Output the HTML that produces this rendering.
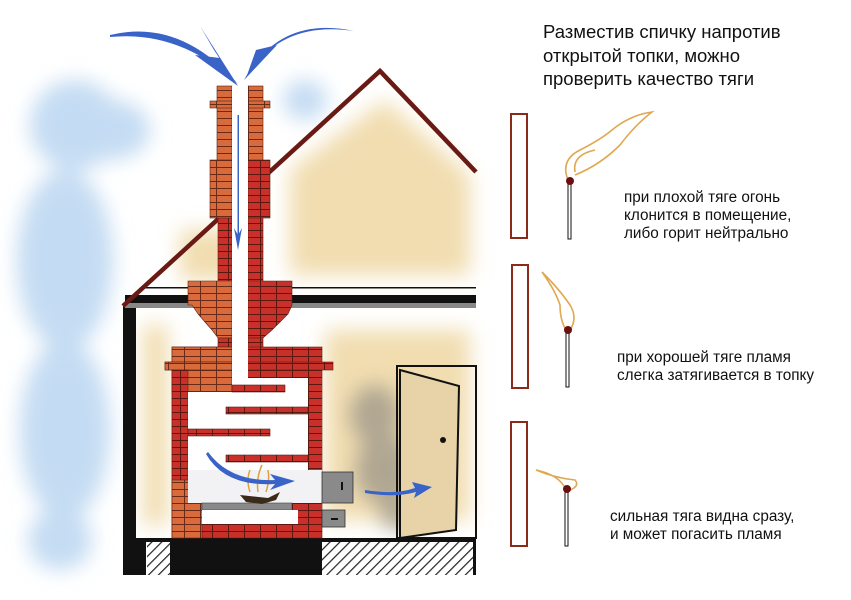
<!DOCTYPE html>
<html><head><meta charset="utf-8"><style>
html,body{margin:0;padding:0;background:#fff;width:851px;height:600px;overflow:hidden}
svg{display:block}
text{font-family:"Liberation Sans",sans-serif;fill:#111}
</style></head><body>
<svg width="851" height="600" viewBox="0 0 851 600" xmlns="http://www.w3.org/2000/svg">
<defs>
<filter id="b8" x="-50%" y="-50%" width="200%" height="200%"><feGaussianBlur stdDeviation="10"/></filter>
<pattern id="bo" width="16" height="7" patternUnits="userSpaceOnUse">
<rect width="16" height="7" fill="#d96a3c"/><rect y="6" width="16" height="1" fill="#6a2a18"/>
<rect x="8" y="0" width="1" height="6" fill="#6a2a18"/></pattern>
<pattern id="br" width="16" height="7" patternUnits="userSpaceOnUse">
<rect width="16" height="7" fill="#c9302a"/><rect y="6" width="16" height="1" fill="#5a1810"/>
<rect x="4" y="0" width="1" height="6" fill="#5a1810"/></pattern>
<pattern id="hat" width="7" height="7" patternUnits="userSpaceOnUse" patternTransform="rotate(45)">
<rect width="7" height="7" fill="#fff"/><rect width="1.2" height="7" fill="#222"/></pattern>
</defs>
<g filter="url(#b8)" fill="#c4dcf3">
<ellipse cx="75" cy="125" rx="45" ry="45"/>
<ellipse cx="110" cy="130" rx="40" ry="30"/>
<ellipse cx="65" cy="260" rx="48" ry="90"/>
<ellipse cx="65" cy="430" rx="45" ry="90"/>
<ellipse cx="60" cy="540" rx="32" ry="30"/>
<ellipse cx="305" cy="100" rx="22" ry="20"/>
</g>
<g filter="url(#b8)" fill="#f1ddb0">
<polygon points="385,100 470,175 470,275 290,275 290,170 330,140"/>
<rect x="180" y="230" width="60" height="50"/>
<rect x="325" y="330" width="145" height="190"/>
<rect x="143" y="325" width="25" height="200"/>
</g>
<g filter="url(#b8)" fill="#9a9488" opacity="0.75">
<ellipse cx="375" cy="415" rx="25" ry="30"/>
<ellipse cx="385" cy="470" rx="30" ry="35"/>
<ellipse cx="400" cy="515" rx="20" ry="15"/>
</g>
<rect x="123" y="538" width="353" height="4" fill="#111"/>
<rect x="147" y="542" width="25" height="33" fill="url(#hat)"/>
<rect x="322" y="542" width="154" height="33" fill="url(#hat)"/>
<rect x="123" y="540" width="23" height="35" fill="#111"/>
<rect x="170" y="540" width="152" height="35" fill="#111"/>
<rect x="473" y="540" width="3" height="35" fill="#111"/>
<rect x="123" y="305" width="13" height="235" fill="#111"/>
<rect x="145" y="287" width="331" height="1.5" fill="#111"/>
<rect x="125" y="295" width="351" height="8" fill="#111"/>
<rect x="125" y="303" width="351" height="5" fill="#888"/>
<polyline points="123,306 380,71 476,172" fill="none" stroke="#6a1a14" stroke-width="4.5"/>
<g stroke="#5a2010" stroke-width="0.6">
<rect x="217" y="86" width="15" height="75" fill="url(#bo)"/>
<rect x="248" y="86" width="15" height="75" fill="url(#bo)"/>
<rect x="210" y="101" width="22" height="7" fill="url(#bo)"/>
<rect x="248" y="101" width="22" height="7" fill="url(#bo)"/>
<rect x="210" y="160" width="22" height="58" fill="url(#bo)"/>
<rect x="248" y="160" width="22" height="58" fill="url(#br)"/>
<rect x="218" y="218" width="14" height="65" fill="url(#br)"/>
<rect x="248" y="218" width="15" height="65" fill="url(#br)"/>
<polygon points="188,281 232,281 232,338 218,338 212,330 205,322 198,314 192,305 188,305" fill="url(#bo)"/>
<polygon points="248,281 292,281 292,305 288,314 280,322 272,330 263,338 248,338" fill="url(#br)"/>
<rect x="218" y="338" width="14" height="10" fill="url(#br)"/>
<rect x="248" y="338" width="15" height="10" fill="url(#br)"/>
<rect x="172" y="347" width="150" height="191" fill="url(#br)"/>
<rect x="172" y="347" width="60" height="45" fill="url(#bo)"/>
<rect x="165" y="362" width="168" height="8" fill="url(#br)"/>
<rect x="165" y="362" width="67" height="8" fill="url(#bo)"/>
<rect x="172" y="370" width="16" height="168" fill="url(#br)"/>
<rect x="172" y="480" width="30" height="58" fill="url(#bo)"/>
</g>
<rect x="232" y="86" width="16" height="300" fill="#fff"/>
<polygon points="188,392 232,392 232,385 248,385 248,378 308,378 308,503 188,503" fill="#fff"/>
<g stroke="#5a1810" stroke-width="0.6">
<rect x="232" y="385" width="53" height="7" fill="url(#br)"/>
<rect x="226" y="407" width="82" height="7" fill="url(#br)"/>
<rect x="188" y="429" width="82" height="7" fill="url(#br)"/>
<rect x="226" y="455" width="82" height="7" fill="url(#br)"/>
</g>
<rect x="308" y="378" width="14" height="92" fill="url(#br)"/>
<rect x="188" y="470" width="134" height="33" fill="#f2f2f4"/>
<rect x="202" y="503" width="90" height="7" fill="#8a8a8a" stroke="#444" stroke-width="0.6"/>
<rect x="292" y="503" width="30" height="7" fill="url(#br)"/>
<rect x="188" y="510" width="110" height="14" fill="#fff"/>
<rect x="188" y="510" width="14" height="14" fill="url(#bo)"/>
<rect x="322" y="472" width="31" height="31" fill="#8a8a8a" stroke="#333" stroke-width="0.8"/>
<rect x="341" y="482" width="2" height="8" fill="#111"/>
<rect x="322" y="510" width="23" height="17" fill="#8a8a8a" stroke="#333" stroke-width="0.8"/>
<rect x="331" y="518" width="7" height="2" fill="#111"/>
<path d="M240,495 L268,498 L280,492 L276,500 L262,504 L246,502Z" fill="#3a2a18"/>
<g stroke="#e0a040" stroke-width="1.5" fill="none">
<path d="M250,492 Q246,480 250,470"/><path d="M258,492 Q256,478 262,465"/><path d="M266,492 Q270,480 268,470"/>
</g>
<rect x="397" y="366" width="79" height="172" fill="none" stroke="#111" stroke-width="2"/>
<polygon points="400,370 459,386 456,530 400,538" fill="#e8d3a8" stroke="#111" stroke-width="2"/>
<circle cx="443" cy="440" r="3" fill="#111"/>
<g fill="#3a63c8">
<path d="M110,35 Q180,18 238,84 Q180,30 110,37Z"/>
<path d="M238,86 L200,26 L214,50Z"/><path d="M238,86 L195,55 L220,58Z"/>
<path d="M246,78 Q280,20 354,31 Q280,15 244,80Z"/>
<path d="M246,78 L277,45 L256,50Z"/>
<path d="M208,452 Q230,482 275,480 L270,474 L295,481 L270,490 L275,484 Q225,487 206,454Z"/>
<path d="M365,490 Q395,495 415,488 L412,482 L432,487 L414,498 L416,492 Q395,498 365,493Z"/>
</g>
<rect x="237.5" y="115" width="1.5" height="120" fill="#3a63c8"/>
<path d="M238,250 L234,228 L238,235 L242,228Z" fill="#3a63c8"/>
<g fill="none" stroke="#8b2a1a" stroke-width="2">
<rect x="511" y="114" width="16" height="124"/>
<rect x="512" y="265" width="16" height="123"/>
<rect x="511" y="422" width="16" height="124"/>
</g>
<g fill="#fff" stroke="#111" stroke-width="1">
<rect x="568" y="183" width="3" height="56"/>
<rect x="566" y="331" width="3" height="56"/>
<rect x="565" y="490" width="3" height="56"/>
</g>
<g fill="none" stroke="#e0a850" stroke-width="1.6">
<path d="M568,180 Q560,160 580,150 Q600,140 612,130 Q630,115 652,112 Q635,125 620,145 Q600,165 575,175"/>
<path d="M575,172 Q572,155 595,150"/>
<path d="M566,330 Q560,320 560,305 Q555,290 542,272 Q560,290 570,305 Q578,318 570,330"/>
<path d="M566,490 Q560,475 536,470 Q555,478 575,480 Q580,486 570,490"/>
</g>
<circle cx="570" cy="181" r="4" fill="#6a1010"/>
<circle cx="568" cy="330" r="4" fill="#6a1010"/>
<circle cx="567" cy="489" r="4" fill="#6a1010"/>
<g font-size="18.5">
<text x="543" y="38">Разместив спичку напротив</text>
<text x="543" y="62">открытой топки, можно</text>
<text x="543" y="85">проверить качество тяги</text>
</g>
<g font-size="15.3">
<text x="624" y="202">при плохой тяге огонь</text>
<text x="624" y="220">клонится в помещение,</text>
<text x="624" y="238">либо горит нейтрально</text>
<text x="617" y="362">при хорошей тяге пламя</text>
<text x="617" y="380">слегка затягивается в топку</text>
<text x="610" y="521">сильная тяга видна сразу,</text>
<text x="610" y="539">и может погасить пламя</text>
</g>
</svg>
</body></html>
